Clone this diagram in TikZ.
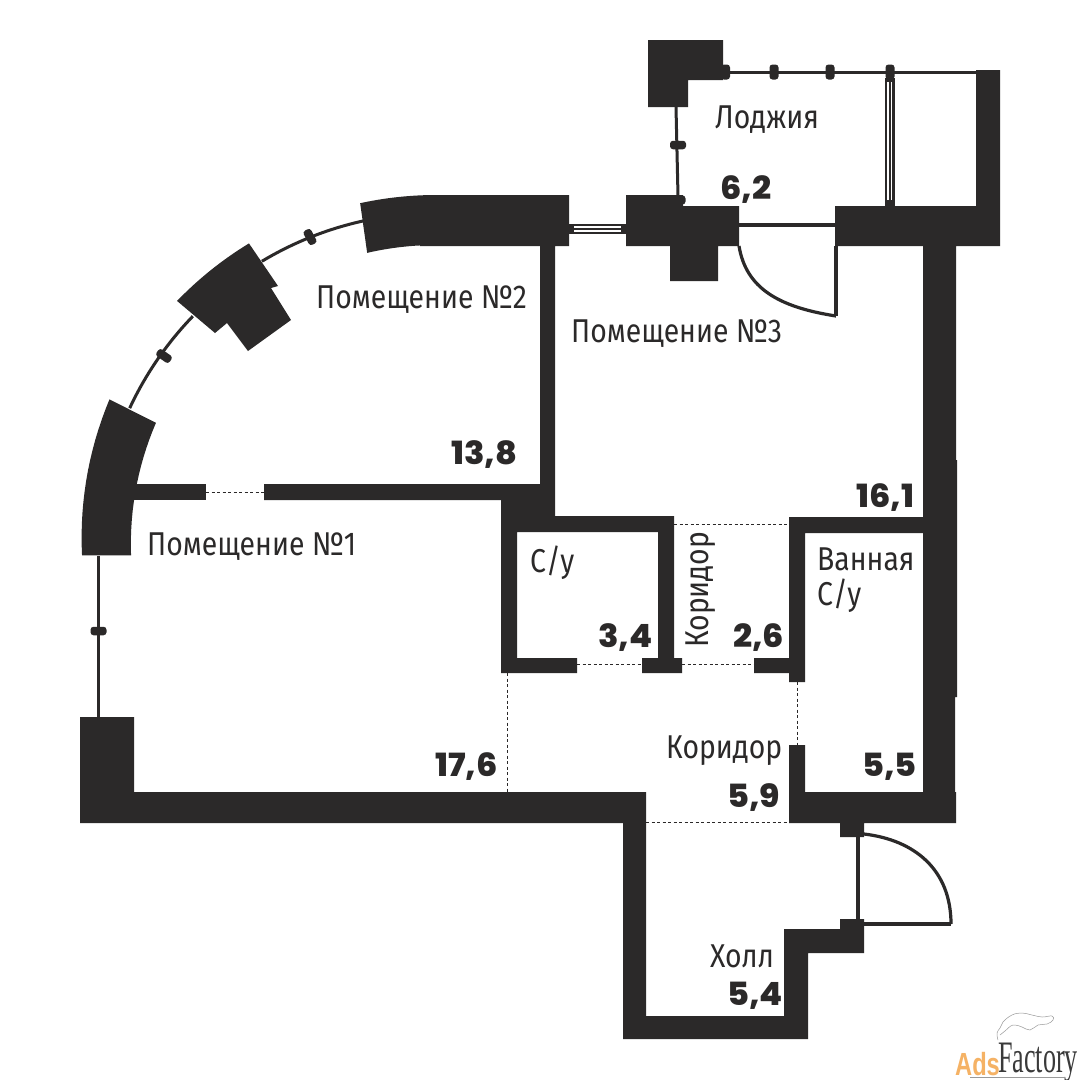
\documentclass[tikz,border=0pt]{standalone}
\usepackage{fontspec}
\setmainfont{Fira Sans}
\newfontfamily\numf{Poppins ExtraBold}
\newfontfamily\factf{Liberation Serif}
\newfontfamily\adsf{Liberation Sans}
\usetikzlibrary{calc}
\definecolor{wall}{HTML}{2B2929}
\definecolor{adsorange}{HTML}{F5B265}
\definecolor{logogray}{HTML}{3A3A3A}
\definecolor{smokegray}{HTML}{9A9A9A}
\tikzset{
  x=1pt,y=-1pt,
  wallfill/.style={fill=wall,draw=none},
  thinline/.style={draw=wall,line width=3pt},
  doorline/.style={draw=wall,line width=3.2pt},
  dashline/.style={draw=wall,line width=0.8pt,dash pattern=on 3pt off 2.5pt},
  pill/.style={fill=wall,draw=none,rectangle,rounded corners=3pt,inner sep=0pt,minimum width=16pt,minimum height=8.5pt},
  lab/.style={font=\fontsize{33}{33}\selectfont,text=wall,anchor=base west,inner sep=0pt},
  labx/.style={lab,xscale=0.86},
  num/.style={font=\numf\fontsize{32}{32}\selectfont,text=wall,anchor=base west,inner sep=0pt,xscale=1.05},
}
\begin{document}
\begin{tikzpicture}
\useasboundingbox (0,0) rectangle (1080,1080);
\fill[white] (0,0) rectangle (1080,1080);
% loggia
\fill[wallfill] (648,40)--(723,40)--(723,80)--(688,80)--(688,107)--(648,107)--cycle;
\draw[thinline] (723,72)--(976,72);
\draw[thinline] (676,107)--(678,196);
\node[pill,minimum width=15pt,minimum height=9pt,rotate=90] (p0) at (725.5,72) {};
\node[pill,minimum width=15pt,minimum height=9pt,rotate=90] (p1) at (774,72) {};
\node[pill,minimum width=15pt,minimum height=9pt,rotate=90] (p2) at (830,72) {};
\node[pill,minimum width=15pt,minimum height=9pt,rotate=90] (p3) at (890,72) {};
\node[pill] (p4) at (678,145) {};
\node[pill,minimum width=9pt,minimum height=9pt] (p5) at (681,200) {};
% long window of loggia
\fill[wall] (884.5,78) rectangle (894.5,206);
\fill[white] (886.8,82) rectangle (888.6,200);
\fill[white] (890.6,82) rectangle (892.4,200);
% right walls
\fill[wallfill] (976,70)--(1000,70)--(1000,246)--(956,246)--(956,460)--(957,460)--(957,697)--(955,697)--(955,792)--(956,792)--(956,823)--(864,823)--(864,837)--(840,837)--(840,823)--(789,823)--(789,745)--(805,745)--(805,792)--(923,792)--(923,533)--(805,533)--(805,682)--(789,682)--(789,673)--(754,673)--(754,658)--(789,658)--(789,517)--(923,517)--(923,246)--(835,246)--(835,206)--(976,206)--cycle;
% centre block at loggia
\fill[wallfill] (626,195)--(683,195)--(683,206)--(739,206)--(739,246)--(718,246)--(718,281)--(670,281)--(670,246)--(626,246)--cycle;
% doorway to loggia and its door
\draw[doorline] (739,225)--(835,225);
\draw[doorline] (836,246)--(836,316);
\draw[doorline] (739,246) .. controls (746,288) and (778,307) .. (836,316);
% top wall with the start of the arc
\fill[wallfill] plot[domain=102.3:92,samples=12] ({436+356*cos(\x)},{551-356*sin(\x)}) --(569,195)--(569,246)--(555,246)--(555,516)--(674,516)--(674,658)--(682,658)--(682,673)--(642,673)--(642,658)--(658,658)--(658,532)--(517,532)--(517,658)--(577,658)--(577,673)--(501,673)--(501,500)--(264,500)--(264,484)--(540,484)--(540,246)--(420,246)--plot[domain=93:103,samples=12] ({436+306*cos(\x)},{551-306*sin(\x)})--cycle;
% window between the rooms
\fill[wall] (569,224) rectangle (626,234);
\fill[white] (574,226) rectangle (621,228);
\fill[white] (574,230) rectangle (621,232);
% thin arc
\draw[thinline] plot[domain=155:136,samples=20] ({436+338*cos(\x)},{551-338*sin(\x)});
\draw[thinline] plot[domain=121:102,samples=20] ({436+338*cos(\x)},{551-338*sin(\x)});
\node[pill,rotate=-35] (p6) at (164,356) {};
\node[pill,rotate=-62] (p7) at (310,237) {};
% middle block of the arc
\fill[wallfill] plot[domain=136:121.3,samples=12] ({436+360*cos(\x)},{551-360*sin(\x)}) --(278,286)--(271,288)--(291,320)--(248,351)--(227,323)--(215,333)--cycle;
% left block of the arc
\fill[wallfill] plot[domain=180.7:155.1,samples=16] ({436+(354+6*(180.7-\x)/25.6)*cos(\x)},{551-(354+6*(180.7-\x)/25.6)*sin(\x)}) --plot[domain=155.4:180.8,samples=16] ({436+(305+3*(180.8-\x)/25.4)*cos(\x)},{551-(305+3*(180.8-\x)/25.4)*sin(\x)})--cycle;
\fill[wallfill] (133,484) rectangle (206,500);
% west window
\draw[thinline] (98,556)--(98,717);
\node[pill] (p8) at (98.5,631) {};
% south walls
\fill[wallfill] (80,717)--(134,717)--(134,792)--(646,792)--(646,1016)--(784,1016)--(784,929)--(840,929)--(840,919)--(864,919)--(864,953)--(808,953)--(808,1039)--(623,1039)--(623,823)--(80,823)--cycle;
% dashed borders
\draw[dashline] (206,492)--(264,492);
\draw[dashline] (674,524)--(789,524);
\draw[dashline] (577,664)--(642,664);
\draw[dashline] (682,664)--(754,664);
\draw[dashline] (507,673)--(507,792);
\draw[dashline] (797,682)--(797,745);
\draw[dashline] (646,822)--(789,822);
% entrance door
\draw[doorline] (858,837)--(858,919);
\draw[doorline] (864,924)--(951,924);
\draw[doorline] (864,834) .. controls (915,840) and (951,870) .. (951,924);
% labels
\node[labx] (t1) at (147,555) {Помещение №1};
\node[labx] (t2) at (316,308) {Помещение №2};
\node[labx] (t3) at (571,342) {Помещение №3};
\node[labx] (t4) at (715,128) {Лоджия};
\node[labx] (t5) at (530,572) {С/у};
\node[labx] (t6) at (817,570) {Ванная};
\node[labx] (t7) at (817,605) {С/у};
\node[lab,rotate=90,xscale=0.86] (t8) at (708,648) {Коридор};
\node[labx] (t9) at (666,758) {Коридор};
\node[labx] (t10) at (710,967) {Холл};
\node[num] (n1) at (720,199) {6,2};
\node[num] (n2) at (451,464) {13,8};
\node[num] (n3) at (856,507) {16,1};
\node[num] (n4) at (598,647) {3,4};
\node[num] (n5) at (733,647) {2,6};
\node[num] (n6) at (435,776) {17,6};
\node[num] (n7) at (862,776) {5,5};
\node[num] (n8) at (727,807) {5,9};
\node[num] (n9) at (727,1005) {5,4};
% watermark
\node[anchor=base west,inner sep=0pt,text=adsorange,font=\adsf\bfseries\fontsize{32}{32}\selectfont,xscale=0.74] (ads) at (955,1075) {Ads};
\node[anchor=base west,inner sep=0pt,text=logogray,font=\factf\fontsize{45}{45}\selectfont,xscale=0.58] (fact) at (998,1072) {Factory};
\draw[smokegray,line width=0.5pt] (970,1077)--(1065,1077);
\draw[smokegray,line width=0.5pt] plot[smooth,tension=0.7] coordinates {(998,1040)(997,1033)(1000,1028)(1003,1022)(1012,1015)(1022,1013)(1032,1015)(1042,1017)(1052,1016)(1053,1020)(1047,1024)(1038,1025)(1030,1030)(1022,1027)(1013,1025)(1005,1031)(1000,1035)};
\end{tikzpicture}
\end{document}
